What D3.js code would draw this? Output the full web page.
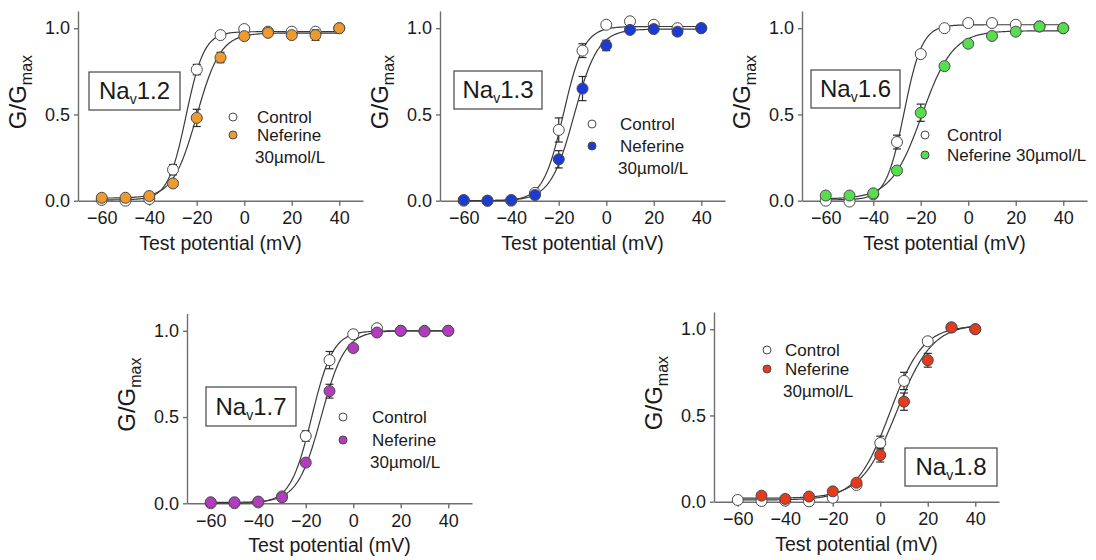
<!DOCTYPE html>
<html>
<head>
<meta charset="utf-8">
<script src="https://cdn.jsdelivr.net/npm/d3@7"></script>
<style>
  body { margin: 0; background: #fff; }
  svg { font-family: "Liberation Sans", Arial, sans-serif; }
</style>
</head>
<body>
<svg id="chart" width="1096" height="560"></svg>
<script>
// test potentials (mV)
const voltages = [-60, -50, -40, -30, -20, -10, 0, 10, 20, 30, 40];
const channels = ['1.2', '1.3', '1.6', '1.7', '1.8'];
const xTicks = [-60, -40, -20, 0, 20, 40];
const yTicks = [0, 0.5, 1.0];

// G/Gmax, control
const ctrl12 = [0.005, 0, 0.01, 0.18, 0.76, 0.96, 0.995, 0.98, 0.98, 0.98, 1.0];
const ctrl13 = [0, 0, 0, 0.045, 0.41, 0.87, 1.02, 1.04, 1.02, 1.0, 1.0];
const ctrl16 = [0, -0.005, 0.037, 0.34, 0.85, 1.0, 1.03, 1.03, 1.02, 1.01, 1.0];
const ctrl17 = [0, 0, 0.005, 0.04, 0.39, 0.83, 0.98, 1.015, 1.0, 1.0, 1.0];
const ctrl18 = [0.01, 0.004, 0.006, 0.002, 0.023, 0.097, 0.34, 0.70, 0.93, 1.01, 1.0];

// G/Gmax, neferine 30 umol/L
const nef12 = [0.017, 0.017, 0.027, 0.10, 0.48, 0.83, 0.954, 0.973, 0.96, 0.96, 1.0];
const nef13 = [0.004, 0, 0.004, 0.033, 0.24, 0.65, 0.90, 0.99, 0.995, 0.98, 1.0];
const nef16 = [0.03, 0.03, 0.043, 0.175, 0.51, 0.78, 0.91, 0.955, 0.98, 1.01, 1.0];
const nef17 = [0.006, 0.006, 0.01, 0.035, 0.236, 0.65, 0.90, 0.99, 1.0, 0.996, 1.0];
const nef18 = [null, 0.035, 0.016, 0.03, 0.06, 0.11, 0.27, 0.58, 0.82, 1.01, 1.0];

// SEM
const ctrlErr12 = [0, 0, 0, 0.03, 0.03, 0, 0, 0, 0, 0, 0];
const ctrlErr13 = [0, 0, 0, 0, 0.07, 0.04, 0, 0, 0, 0, 0];
const ctrlErr16 = [0, 0, 0, 0.04, 0, 0, 0, 0, 0, 0, 0];
const ctrlErr17 = [0, 0, 0, 0, 0.03, 0.05, 0, 0, 0, 0, 0];
const ctrlErr18 = [0, 0, 0, 0, 0, 0, 0.04, 0.05, 0, 0, 0];
const nefErr12 = [0, 0, 0, 0, 0.05, 0.03, 0, 0, 0, 0.03, 0];
const nefErr13 = [0, 0, 0, 0, 0.05, 0.07, 0.03, 0, 0, 0, 0];
const nefErr16 = [0, 0, 0, 0, 0.05, 0, 0, 0, 0, 0, 0];
const nefErr17 = [0, 0, 0, 0, 0, 0.04, 0, 0, 0, 0, 0];
const nefErr18 = [0, 0, 0, 0, 0, 0, 0.04, 0.05, 0.04, 0, 0];

// Boltzmann fit parameters [V1/2, k, bottom, top]
const fitCtrl = [[-24.5, 3.8, 0.005, 0.98], [-18, 4.3, 0, 1.01], [-27, 3.8, 0.005, 1.02], [-17.5, 4.5, 0, 1.0], [4, 7, 0.01, 1.02]];
const fitNef = [[-20, 5, 0.015, 0.972], [-13.5, 5, 0, 0.995], [-19.5, 6.5, 0.01, 0.985], [-13.5, 5, 0.005, 1.0], [7, 7.5, 0.02, 1.03]];

const nefColors = ['#EE9A2E', '#1C3BD6', '#57DD4F', '#B23CBE', '#E33B1C'];

const ctrlData = [ctrl12, ctrl13, ctrl16, ctrl17, ctrl18];
const nefData = [nef12, nef13, nef16, nef17, nef18];
const ctrlErr = [ctrlErr12, ctrlErr13, ctrlErr16, ctrlErr17, ctrlErr18];
const nefErr = [nefErr12, nefErr13, nefErr16, nefErr17, nefErr18];

// layout: axis left x, axis bottom y, name box, legend
const layout = [
  {x: 78, y: 200.7, box: [89, 72, 91, 38], leg: [233, 117, 135, 257, 'split']},
  {x: 440, y: 200.7, box: [454, 71, 88, 38], leg: [592, 124, 146, 620, 'split']},
  {x: 802, y: 200.7, box: [811, 70, 89, 38], leg: [925, 135, 155, 947, 'one']},
  {x: 187, y: 503.3, box: [206, 387, 90, 39], leg: [343, 417, 440, 372, 'split']},
  {x: 714, y: 501.7, box: [905, 448, 92, 38], leg: [767, 350, 369, 785, 'split']}
];

const plotW = 285, unitH = 172.5;
const ink = '#1a1a1a', axisCol = '#6e6e6e';
const svg = d3.select('#chart');

function boltz(p, v) {
  return p[2] + (p[3] - p[2]) / (1 + Math.exp((p[0] - v) / p[1]));
}

channels.forEach((ch, i) => {
  const L = layout[i];
  const x = d3.scaleLinear().domain([-70, 50]).range([L.x, L.x + plotW]);
  const y = d3.scaleLinear().domain([0, 1.1]).range([L.y, L.y - 1.1 * unitH]);
  const g = svg.append('g');

  // axes
  const xAxis = d3.axisBottom(x).tickValues(xTicks).tickSize(5).tickPadding(6).tickSizeOuter(0);
  const yAxis = d3.axisLeft(y).tickValues(yTicks).tickFormat(d3.format('.1f')).tickSize(4).tickPadding(4).tickSizeOuter(0);
  const gx = g.append('g').attr('transform', `translate(0,${L.y})`).call(xAxis);
  const gy = g.append('g').attr('transform', `translate(${L.x},0)`).call(yAxis);
  [gx, gy].forEach(a => {
    a.selectAll('path, line').attr('stroke', axisCol).attr('stroke-width', 1.4);
    a.selectAll('text').attr('fill', ink).style('font-size', '18px').style('font-family', '"Liberation Sans", Arial, sans-serif');
  });

  // axis titles
  g.append('text')
    .attr('x', L.x + plotW / 2).attr('y', L.y + 49)
    .attr('text-anchor', 'middle').attr('fill', ink).style('font-size', '19.5px')
    .text('Test potential (mV)');
  const yl = g.append('text')
    .attr('transform', `translate(${L.x - 52},${y(0.63)}) rotate(-90)`)
    .attr('text-anchor', 'middle').attr('fill', ink).style('font-size', '24px');
  yl.append('tspan').text('G/G');
  yl.append('tspan').attr('dy', 6).style('font-size', '16px').text('max');

  // fit curves
  const vs = d3.range(-60, 40.01, 0.5);
  const line = d3.line().x(d => x(d[0])).y(d => y(d[1]));
  [fitCtrl[i], fitNef[i]].forEach(p => {
    g.append('path').datum(vs.map(v => [v, boltz(p, v)]))
      .attr('d', line).attr('fill', 'none').attr('stroke', '#3a3a3a').attr('stroke-width', 1.2);
  });

  // error bars + points
  const series = [
    {vals: ctrlData[i], err: ctrlErr[i], fill: '#fff'},
    {vals: nefData[i], err: nefErr[i], fill: nefColors[i]}
  ];
  series.forEach(s => {
    const pts = voltages.map((v, j) => ({v, g: s.vals[j], e: s.err[j]})).filter(d => d.g !== null);
    const eb = g.append('g').attr('stroke', '#2a2a2a').attr('stroke-width', 1.2);
    pts.filter(d => d.e > 0).forEach(d => {
      eb.append('line').attr('x1', x(d.v)).attr('x2', x(d.v)).attr('y1', y(d.g - d.e)).attr('y2', y(d.g + d.e));
      [d.g - d.e, d.g + d.e].forEach(c => {
        eb.append('line').attr('x1', x(d.v) - 4).attr('x2', x(d.v) + 4).attr('y1', y(c)).attr('y2', y(c));
      });
    });
    g.append('g').selectAll('circle').data(pts).enter().append('circle')
      .attr('cx', d => x(d.v)).attr('cy', d => y(d.g)).attr('r', 5.5)
      .attr('fill', s.fill).attr('stroke', '#4a4a4a').attr('stroke-width', 1);
  });

  // channel name box
  const b = L.box;
  g.append('rect').attr('x', b[0]).attr('y', b[1]).attr('width', b[2]).attr('height', b[3])
    .attr('fill', '#fff').attr('stroke', '#444').attr('stroke-width', 1.2);
  const nt = g.append('text').attr('x', b[0] + b[2] / 2).attr('y', b[1] + b[3] / 2 + 8)
    .attr('text-anchor', 'middle').attr('fill', ink).style('font-size', '24px');
  nt.append('tspan').text('Na');
  nt.append('tspan').attr('dy', 5).style('font-size', '14px').text('v');
  nt.append('tspan').attr('dy', -5).text(ch);

  // legend
  const lg = L.leg;
  g.append('circle').attr('cx', lg[0]).attr('cy', lg[1]).attr('r', 4)
    .attr('fill', '#fff').attr('stroke', '#4a4a4a').attr('stroke-width', 1);
  g.append('circle').attr('cx', lg[0]).attr('cy', lg[2]).attr('r', 4)
    .attr('fill', nefColors[i]).attr('stroke', '#4a4a4a').attr('stroke-width', 1);
  const lt = (tx, ty, s) => g.append('text').attr('x', tx).attr('y', ty + 6)
    .attr('fill', ink).style('font-size', '17px').text(s);
  lt(lg[3], lg[1], 'Control');
  if (lg[4] === 'split') {
    lt(lg[3], lg[2], 'Neferine');
    lt(lg[3] - 2, lg[2] + 22, '30µmol/L');
  } else {
    lt(lg[3], lg[2], 'Neferine 30µmol/L');
  }
});
</script>
</body>
</html>
